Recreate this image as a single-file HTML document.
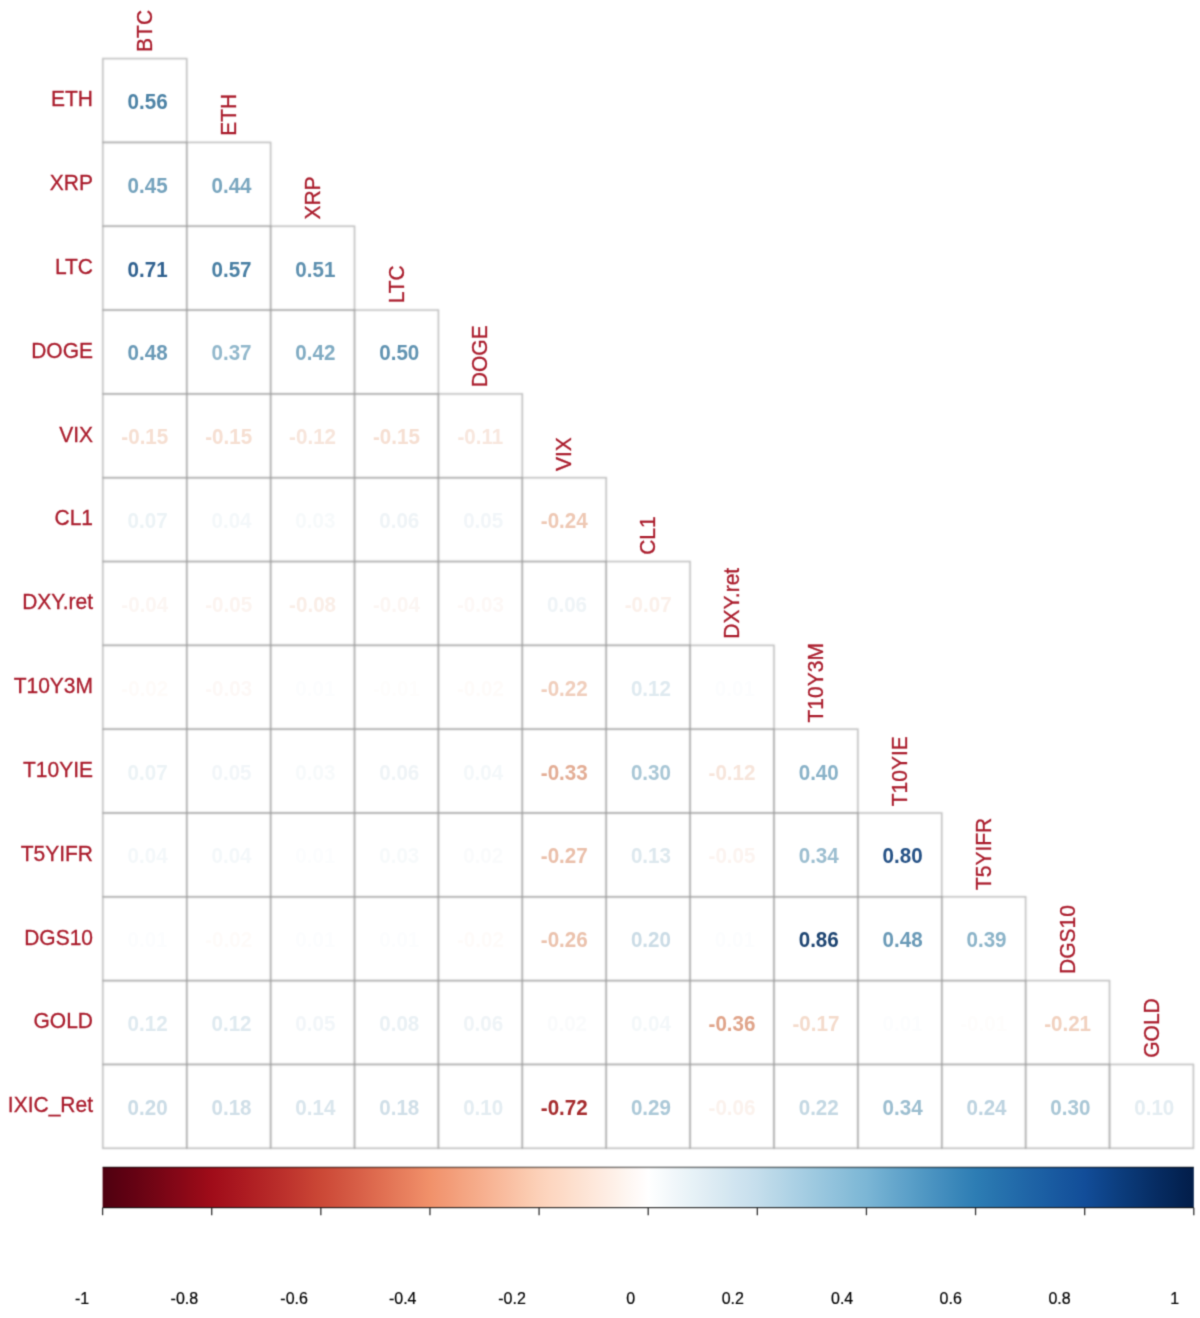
<!DOCTYPE html><html><head><meta charset="utf-8"><style>html,body{margin:0;padding:0;background:#fff;}body{width:1200px;height:1318px;overflow:hidden;}svg{display:block;}text{font-family:"Liberation Sans",sans-serif;}</style></head><body>
<svg width="1200" height="1318" viewBox="0 0 1200 1318">
<defs><filter id="gblur" x="0" y="0" width="1200" height="1318" filterUnits="userSpaceOnUse" color-interpolation-filters="sRGB"><feConvolveMatrix order="3" kernelMatrix="0.02768 0.11101 0.02768 0.11101 0.44521 0.11101 0.02768 0.11101 0.02768" edgeMode="duplicate"/></filter><filter id="lblur" x="0" y="0" width="1200" height="1318" filterUnits="userSpaceOnUse" color-interpolation-filters="sRGB"><feConvolveMatrix order="5" kernelMatrix="0.00009 0.00198 0.00548 0.00198 0.00009 0.00198 0.04220 0.11707 0.04220 0.00198 0.00548 0.11707 0.32480 0.11707 0.00548 0.00198 0.04220 0.11707 0.04220 0.00198 0.00009 0.00198 0.00548 0.00198 0.00009" edgeMode="none"/></filter></defs>
<g filter="url(#gblur)">
<rect width="1200" height="1318" fill="#fff"/>
<g fill="none" stroke="#a0a0a0" stroke-opacity="0.700" stroke-width="1.50" filter="url(#lblur)"><rect x="102.85" y="58.60" width="83.89" height="83.82"/><rect x="102.85" y="142.42" width="83.89" height="83.82"/><rect x="186.74" y="142.42" width="83.89" height="83.82"/><rect x="102.85" y="226.24" width="83.89" height="83.82"/><rect x="186.74" y="226.24" width="83.89" height="83.82"/><rect x="270.63" y="226.24" width="83.89" height="83.82"/><rect x="102.85" y="310.06" width="83.89" height="83.82"/><rect x="186.74" y="310.06" width="83.89" height="83.82"/><rect x="270.63" y="310.06" width="83.89" height="83.82"/><rect x="354.52" y="310.06" width="83.89" height="83.82"/><rect x="102.85" y="393.88" width="83.89" height="83.82"/><rect x="186.74" y="393.88" width="83.89" height="83.82"/><rect x="270.63" y="393.88" width="83.89" height="83.82"/><rect x="354.52" y="393.88" width="83.89" height="83.82"/><rect x="438.41" y="393.88" width="83.89" height="83.82"/><rect x="102.85" y="477.70" width="83.89" height="83.82"/><rect x="186.74" y="477.70" width="83.89" height="83.82"/><rect x="270.63" y="477.70" width="83.89" height="83.82"/><rect x="354.52" y="477.70" width="83.89" height="83.82"/><rect x="438.41" y="477.70" width="83.89" height="83.82"/><rect x="522.30" y="477.70" width="83.89" height="83.82"/><rect x="102.85" y="561.52" width="83.89" height="83.82"/><rect x="186.74" y="561.52" width="83.89" height="83.82"/><rect x="270.63" y="561.52" width="83.89" height="83.82"/><rect x="354.52" y="561.52" width="83.89" height="83.82"/><rect x="438.41" y="561.52" width="83.89" height="83.82"/><rect x="522.30" y="561.52" width="83.89" height="83.82"/><rect x="606.19" y="561.52" width="83.89" height="83.82"/><rect x="102.85" y="645.34" width="83.89" height="83.82"/><rect x="186.74" y="645.34" width="83.89" height="83.82"/><rect x="270.63" y="645.34" width="83.89" height="83.82"/><rect x="354.52" y="645.34" width="83.89" height="83.82"/><rect x="438.41" y="645.34" width="83.89" height="83.82"/><rect x="522.30" y="645.34" width="83.89" height="83.82"/><rect x="606.19" y="645.34" width="83.89" height="83.82"/><rect x="690.08" y="645.34" width="83.89" height="83.82"/><rect x="102.85" y="729.16" width="83.89" height="83.82"/><rect x="186.74" y="729.16" width="83.89" height="83.82"/><rect x="270.63" y="729.16" width="83.89" height="83.82"/><rect x="354.52" y="729.16" width="83.89" height="83.82"/><rect x="438.41" y="729.16" width="83.89" height="83.82"/><rect x="522.30" y="729.16" width="83.89" height="83.82"/><rect x="606.19" y="729.16" width="83.89" height="83.82"/><rect x="690.08" y="729.16" width="83.89" height="83.82"/><rect x="773.97" y="729.16" width="83.89" height="83.82"/><rect x="102.85" y="812.98" width="83.89" height="83.82"/><rect x="186.74" y="812.98" width="83.89" height="83.82"/><rect x="270.63" y="812.98" width="83.89" height="83.82"/><rect x="354.52" y="812.98" width="83.89" height="83.82"/><rect x="438.41" y="812.98" width="83.89" height="83.82"/><rect x="522.30" y="812.98" width="83.89" height="83.82"/><rect x="606.19" y="812.98" width="83.89" height="83.82"/><rect x="690.08" y="812.98" width="83.89" height="83.82"/><rect x="773.97" y="812.98" width="83.89" height="83.82"/><rect x="857.86" y="812.98" width="83.89" height="83.82"/><rect x="102.85" y="896.80" width="83.89" height="83.82"/><rect x="186.74" y="896.80" width="83.89" height="83.82"/><rect x="270.63" y="896.80" width="83.89" height="83.82"/><rect x="354.52" y="896.80" width="83.89" height="83.82"/><rect x="438.41" y="896.80" width="83.89" height="83.82"/><rect x="522.30" y="896.80" width="83.89" height="83.82"/><rect x="606.19" y="896.80" width="83.89" height="83.82"/><rect x="690.08" y="896.80" width="83.89" height="83.82"/><rect x="773.97" y="896.80" width="83.89" height="83.82"/><rect x="857.86" y="896.80" width="83.89" height="83.82"/><rect x="941.75" y="896.80" width="83.89" height="83.82"/><rect x="102.85" y="980.62" width="83.89" height="83.82"/><rect x="186.74" y="980.62" width="83.89" height="83.82"/><rect x="270.63" y="980.62" width="83.89" height="83.82"/><rect x="354.52" y="980.62" width="83.89" height="83.82"/><rect x="438.41" y="980.62" width="83.89" height="83.82"/><rect x="522.30" y="980.62" width="83.89" height="83.82"/><rect x="606.19" y="980.62" width="83.89" height="83.82"/><rect x="690.08" y="980.62" width="83.89" height="83.82"/><rect x="773.97" y="980.62" width="83.89" height="83.82"/><rect x="857.86" y="980.62" width="83.89" height="83.82"/><rect x="941.75" y="980.62" width="83.89" height="83.82"/><rect x="1025.64" y="980.62" width="83.89" height="83.82"/><rect x="102.85" y="1064.44" width="83.89" height="83.82"/><rect x="186.74" y="1064.44" width="83.89" height="83.82"/><rect x="270.63" y="1064.44" width="83.89" height="83.82"/><rect x="354.52" y="1064.44" width="83.89" height="83.82"/><rect x="438.41" y="1064.44" width="83.89" height="83.82"/><rect x="522.30" y="1064.44" width="83.89" height="83.82"/><rect x="606.19" y="1064.44" width="83.89" height="83.82"/><rect x="690.08" y="1064.44" width="83.89" height="83.82"/><rect x="773.97" y="1064.44" width="83.89" height="83.82"/><rect x="857.86" y="1064.44" width="83.89" height="83.82"/><rect x="941.75" y="1064.44" width="83.89" height="83.82"/><rect x="1025.64" y="1064.44" width="83.89" height="83.82"/><rect x="1109.53" y="1064.44" width="83.89" height="83.82"/></g>
<g font-weight="bold" font-size="20.6" text-anchor="middle"><text transform="translate(147.59 109.01) scale(1 1.090)" fill="#4d83a6">0.56</text><text transform="translate(147.59 192.83) scale(1 1.090)" fill="#75a3bd">0.45</text><text transform="translate(231.49 192.83) scale(1 1.090)" fill="#79a6bf">0.44</text><text transform="translate(147.59 276.65) scale(1 1.090)" fill="#316290">0.71</text><text transform="translate(231.49 276.65) scale(1 1.090)" fill="#4a80a4">0.57</text><text transform="translate(315.38 276.65) scale(1 1.090)" fill="#5f91b0">0.51</text><text transform="translate(147.59 360.47) scale(1 1.090)" fill="#6a9ab7">0.48</text><text transform="translate(231.49 360.47) scale(1 1.090)" fill="#92b8cc">0.37</text><text transform="translate(315.38 360.47) scale(1 1.090)" fill="#81acc3">0.42</text><text transform="translate(399.27 360.47) scale(1 1.090)" fill="#6294b2">0.50</text><text transform="translate(144.79 444.29) scale(1 1.090)" fill="#f6dfd2">-0.15</text><text transform="translate(228.69 444.29) scale(1 1.090)" fill="#f6dfd2">-0.15</text><text transform="translate(312.57 444.29) scale(1 1.090)" fill="#f7e5db">-0.12</text><text transform="translate(396.47 444.29) scale(1 1.090)" fill="#f6dfd2">-0.15</text><text transform="translate(480.36 444.29) scale(1 1.090)" fill="#f8e7de">-0.11</text><text transform="translate(147.59 528.11) scale(1 1.090)" fill="#ecf3f6">0.07</text><text transform="translate(231.49 528.11) scale(1 1.090)" fill="#f4f8fa">0.04</text><text transform="translate(315.38 528.11) scale(1 1.090)" fill="#f7fafb">0.03</text><text transform="translate(399.27 528.11) scale(1 1.090)" fill="#eff4f7">0.06</text><text transform="translate(483.16 528.11) scale(1 1.090)" fill="#f2f6f9">0.05</text><text transform="translate(564.25 528.11) scale(1 1.090)" fill="#eec8b4">-0.24</text><text transform="translate(144.79 611.93) scale(1 1.090)" fill="#fcf6f3">-0.04</text><text transform="translate(228.69 611.93) scale(1 1.090)" fill="#fcf4f0">-0.05</text><text transform="translate(312.57 611.93) scale(1 1.090)" fill="#faeee7">-0.08</text><text transform="translate(396.47 611.93) scale(1 1.090)" fill="#fcf6f3">-0.04</text><text transform="translate(480.36 611.93) scale(1 1.090)" fill="#fdf8f6">-0.03</text><text transform="translate(567.04 611.93) scale(1 1.090)" fill="#eff4f7">0.06</text><text transform="translate(648.13 611.93) scale(1 1.090)" fill="#fbf0ea">-0.07</text><text transform="translate(144.79 695.75) scale(1 1.090)" fill="#fefbf9">-0.02</text><text transform="translate(228.69 695.75) scale(1 1.090)" fill="#fdf8f6">-0.03</text><text transform="translate(315.38 695.75) scale(1 1.090)" fill="#fcfdfe">0.01</text><text transform="translate(396.47 695.75) scale(1 1.090)" fill="#fefdfc">-0.01</text><text transform="translate(480.36 695.75) scale(1 1.090)" fill="#fefbf9">-0.02</text><text transform="translate(564.25 695.75) scale(1 1.090)" fill="#f0cebc">-0.22</text><text transform="translate(650.93 695.75) scale(1 1.090)" fill="#dfeaf0">0.12</text><text transform="translate(734.82 695.75) scale(1 1.090)" fill="#fcfdfe">0.01</text><text transform="translate(147.59 779.57) scale(1 1.090)" fill="#ecf3f6">0.07</text><text transform="translate(231.49 779.57) scale(1 1.090)" fill="#f2f6f9">0.05</text><text transform="translate(315.38 779.57) scale(1 1.090)" fill="#f7fafb">0.03</text><text transform="translate(399.27 779.57) scale(1 1.090)" fill="#eff4f7">0.06</text><text transform="translate(483.16 779.57) scale(1 1.090)" fill="#f4f8fa">0.04</text><text transform="translate(564.25 779.57) scale(1 1.090)" fill="#e3ad95">-0.33</text><text transform="translate(650.93 779.57) scale(1 1.090)" fill="#a9c7d6">0.30</text><text transform="translate(732.02 779.57) scale(1 1.090)" fill="#f7e5db">-0.12</text><text transform="translate(818.72 779.57) scale(1 1.090)" fill="#89b2c8">0.40</text><text transform="translate(147.59 863.39) scale(1 1.090)" fill="#f4f8fa">0.04</text><text transform="translate(231.49 863.39) scale(1 1.090)" fill="#f4f8fa">0.04</text><text transform="translate(315.38 863.39) scale(1 1.090)" fill="#fcfdfe">0.01</text><text transform="translate(399.27 863.39) scale(1 1.090)" fill="#f7fafb">0.03</text><text transform="translate(483.16 863.39) scale(1 1.090)" fill="#fafbfc">0.02</text><text transform="translate(564.25 863.39) scale(1 1.090)" fill="#eabfaa">-0.27</text><text transform="translate(650.93 863.39) scale(1 1.090)" fill="#dde8ee">0.13</text><text transform="translate(732.02 863.39) scale(1 1.090)" fill="#fcf4f0">-0.05</text><text transform="translate(818.72 863.39) scale(1 1.090)" fill="#9cbed0">0.34</text><text transform="translate(902.61 863.39) scale(1 1.090)" fill="#265286">0.80</text><text transform="translate(147.59 947.21) scale(1 1.090)" fill="#fcfdfe">0.01</text><text transform="translate(228.69 947.21) scale(1 1.090)" fill="#fefbf9">-0.02</text><text transform="translate(315.38 947.21) scale(1 1.090)" fill="#fcfdfe">0.01</text><text transform="translate(399.27 947.21) scale(1 1.090)" fill="#fcfdfe">0.01</text><text transform="translate(480.36 947.21) scale(1 1.090)" fill="#fefbf9">-0.02</text><text transform="translate(564.25 947.21) scale(1 1.090)" fill="#ebc2ad">-0.26</text><text transform="translate(650.93 947.21) scale(1 1.090)" fill="#cbdce6">0.20</text><text transform="translate(734.82 947.21) scale(1 1.090)" fill="#fcfdfe">0.01</text><text transform="translate(818.72 947.21) scale(1 1.090)" fill="#1e4572">0.86</text><text transform="translate(902.61 947.21) scale(1 1.090)" fill="#6a9ab7">0.48</text><text transform="translate(986.50 947.21) scale(1 1.090)" fill="#8cb4c9">0.39</text><text transform="translate(147.59 1031.03) scale(1 1.090)" fill="#dfeaf0">0.12</text><text transform="translate(231.49 1031.03) scale(1 1.090)" fill="#dfeaf0">0.12</text><text transform="translate(315.38 1031.03) scale(1 1.090)" fill="#f2f6f9">0.05</text><text transform="translate(399.27 1031.03) scale(1 1.090)" fill="#eaf1f5">0.08</text><text transform="translate(483.16 1031.03) scale(1 1.090)" fill="#eff4f7">0.06</text><text transform="translate(567.04 1031.03) scale(1 1.090)" fill="#fafbfc">0.02</text><text transform="translate(650.93 1031.03) scale(1 1.090)" fill="#f4f8fa">0.04</text><text transform="translate(732.02 1031.03) scale(1 1.090)" fill="#e0a48a">-0.36</text><text transform="translate(815.92 1031.03) scale(1 1.090)" fill="#f4dbcc">-0.17</text><text transform="translate(902.61 1031.03) scale(1 1.090)" fill="#fcfdfe">0.01</text><text transform="translate(983.70 1031.03) scale(1 1.090)" fill="#fefdfc">-0.01</text><text transform="translate(1067.59 1031.03) scale(1 1.090)" fill="#f1d1bf">-0.21</text><text transform="translate(147.59 1114.85) scale(1 1.090)" fill="#cbdce6">0.20</text><text transform="translate(231.49 1114.85) scale(1 1.090)" fill="#d0dfe8">0.18</text><text transform="translate(315.38 1114.85) scale(1 1.090)" fill="#dae6ed">0.14</text><text transform="translate(399.27 1114.85) scale(1 1.090)" fill="#d0dfe8">0.18</text><text transform="translate(483.16 1114.85) scale(1 1.090)" fill="#e4edf2">0.10</text><text transform="translate(564.25 1114.85) scale(1 1.090)" fill="#a52b2d">-0.72</text><text transform="translate(650.93 1114.85) scale(1 1.090)" fill="#acc9d8">0.29</text><text transform="translate(732.02 1114.85) scale(1 1.090)" fill="#fbf2ed">-0.06</text><text transform="translate(818.72 1114.85) scale(1 1.090)" fill="#c4d8e3">0.22</text><text transform="translate(902.61 1114.85) scale(1 1.090)" fill="#9cbed0">0.34</text><text transform="translate(986.50 1114.85) scale(1 1.090)" fill="#bdd3e0">0.24</text><text transform="translate(1070.38 1114.85) scale(1 1.090)" fill="#a9c7d6">0.30</text><text transform="translate(1154.27 1114.85) scale(1 1.090)" fill="#e4edf2">0.10</text></g>
<g font-size="21.0" text-anchor="end" fill="#aa1c2c" stroke="#aa1c2c" stroke-width="0.3"><text transform="translate(93.0 106.31) scale(1 1.080)">ETH</text><text transform="translate(93.0 190.13) scale(1 1.080)">XRP</text><text transform="translate(93.0 273.95) scale(1 1.080)">LTC</text><text transform="translate(93.0 357.77) scale(1 1.080)">DOGE</text><text transform="translate(93.0 441.59) scale(1 1.080)">VIX</text><text transform="translate(93.0 525.41) scale(1 1.080)">CL1</text><text transform="translate(93.0 609.23) scale(1 1.080)">DXY.ret</text><text transform="translate(93.0 693.05) scale(1 1.080)">T10Y3M</text><text transform="translate(93.0 776.87) scale(1 1.080)">T10YIE</text><text transform="translate(93.0 860.69) scale(1 1.080)">T5YIFR</text><text transform="translate(93.0 944.51) scale(1 1.080)">DGS10</text><text transform="translate(93.0 1028.33) scale(1 1.080)">GOLD</text><text transform="translate(93.0 1112.15) scale(1 1.080)">IXIC_Ret</text></g>
<g font-size="21.0" text-anchor="start" fill="#aa1c2c" stroke="#aa1c2c" stroke-width="0.3"><text transform="translate(151.89 51.90) rotate(-90) scale(1 1.080)">BTC</text><text transform="translate(235.78 135.72) rotate(-90) scale(1 1.080)">ETH</text><text transform="translate(319.68 219.54) rotate(-90) scale(1 1.080)">XRP</text><text transform="translate(403.57 303.36) rotate(-90) scale(1 1.080)">LTC</text><text transform="translate(487.46 387.18) rotate(-90) scale(1 1.080)">DOGE</text><text transform="translate(571.35 471.00) rotate(-90) scale(1 1.080)">VIX</text><text transform="translate(655.24 554.82) rotate(-90) scale(1 1.080)">CL1</text><text transform="translate(739.12 638.64) rotate(-90) scale(1 1.080)">DXY.ret</text><text transform="translate(823.02 722.46) rotate(-90) scale(1 1.080)">T10Y3M</text><text transform="translate(906.91 806.28) rotate(-90) scale(1 1.080)">T10YIE</text><text transform="translate(990.80 890.10) rotate(-90) scale(1 1.080)">T5YIFR</text><text transform="translate(1074.68 973.92) rotate(-90) scale(1 1.080)">DGS10</text><text transform="translate(1158.57 1057.74) rotate(-90) scale(1 1.080)">GOLD</text></g>
<defs><linearGradient id="cb" x1="0" x2="1" y1="0" y2="0"><stop offset="0.0000" stop-color="#4e0010"/><stop offset="0.0100" stop-color="#560111"/><stop offset="0.0200" stop-color="#5e0112"/><stop offset="0.0300" stop-color="#650213"/><stop offset="0.0400" stop-color="#6d0414"/><stop offset="0.0500" stop-color="#750515"/><stop offset="0.0600" stop-color="#7e0616"/><stop offset="0.0700" stop-color="#860717"/><stop offset="0.0800" stop-color="#8f0917"/><stop offset="0.0900" stop-color="#970a18"/><stop offset="0.1000" stop-color="#a00c19"/><stop offset="0.1100" stop-color="#a4111c"/><stop offset="0.1200" stop-color="#a8161f"/><stop offset="0.1300" stop-color="#ad1b21"/><stop offset="0.1400" stop-color="#b12124"/><stop offset="0.1500" stop-color="#b52727"/><stop offset="0.1600" stop-color="#b92d2a"/><stop offset="0.1700" stop-color="#be332d"/><stop offset="0.1800" stop-color="#c23a30"/><stop offset="0.1900" stop-color="#c74133"/><stop offset="0.2000" stop-color="#cb4836"/><stop offset="0.2100" stop-color="#cf4e3b"/><stop offset="0.2200" stop-color="#d25540"/><stop offset="0.2300" stop-color="#d65c45"/><stop offset="0.2400" stop-color="#da634a"/><stop offset="0.2500" stop-color="#de6b4f"/><stop offset="0.2600" stop-color="#e27254"/><stop offset="0.2700" stop-color="#e57a5a"/><stop offset="0.2800" stop-color="#e9815f"/><stop offset="0.2900" stop-color="#ed8965"/><stop offset="0.3000" stop-color="#f1916a"/><stop offset="0.3100" stop-color="#f29772"/><stop offset="0.3200" stop-color="#f39d79"/><stop offset="0.3300" stop-color="#f4a481"/><stop offset="0.3400" stop-color="#f5aa88"/><stop offset="0.3500" stop-color="#f7b090"/><stop offset="0.3600" stop-color="#f8b798"/><stop offset="0.3700" stop-color="#f9bda0"/><stop offset="0.3800" stop-color="#fac4a8"/><stop offset="0.3900" stop-color="#fbcbb0"/><stop offset="0.4000" stop-color="#fcd1b9"/><stop offset="0.4100" stop-color="#fdd6c0"/><stop offset="0.4200" stop-color="#fddac6"/><stop offset="0.4300" stop-color="#fddfcd"/><stop offset="0.4400" stop-color="#fde3d4"/><stop offset="0.4500" stop-color="#fee8db"/><stop offset="0.4600" stop-color="#feece2"/><stop offset="0.4700" stop-color="#fef1e9"/><stop offset="0.4800" stop-color="#fef6f1"/><stop offset="0.4900" stop-color="#fffaf8"/><stop offset="0.5000" stop-color="#ffffff"/><stop offset="0.5100" stop-color="#f9fcfd"/><stop offset="0.5200" stop-color="#f3f8fb"/><stop offset="0.5300" stop-color="#edf5f9"/><stop offset="0.5400" stop-color="#e7f2f7"/><stop offset="0.5500" stop-color="#e2eef5"/><stop offset="0.5600" stop-color="#dcebf3"/><stop offset="0.5700" stop-color="#d6e8f1"/><stop offset="0.5800" stop-color="#d0e4f0"/><stop offset="0.5900" stop-color="#cbe1ee"/><stop offset="0.6000" stop-color="#c5deec"/><stop offset="0.6100" stop-color="#bddae9"/><stop offset="0.6200" stop-color="#b6d6e7"/><stop offset="0.6300" stop-color="#aed2e5"/><stop offset="0.6400" stop-color="#a7cee3"/><stop offset="0.6500" stop-color="#9fcae0"/><stop offset="0.6600" stop-color="#98c6de"/><stop offset="0.6700" stop-color="#91c2dc"/><stop offset="0.6800" stop-color="#8abed9"/><stop offset="0.6900" stop-color="#82bad7"/><stop offset="0.7000" stop-color="#7cb6d5"/><stop offset="0.7100" stop-color="#73b0d2"/><stop offset="0.7200" stop-color="#6aaace"/><stop offset="0.7300" stop-color="#62a4cb"/><stop offset="0.7400" stop-color="#5a9fc8"/><stop offset="0.7500" stop-color="#5299c4"/><stop offset="0.7600" stop-color="#4a93c1"/><stop offset="0.7700" stop-color="#438dbe"/><stop offset="0.7800" stop-color="#3b88ba"/><stop offset="0.7900" stop-color="#3482b7"/><stop offset="0.8000" stop-color="#2d7db4"/><stop offset="0.8100" stop-color="#2a78b1"/><stop offset="0.8200" stop-color="#2773ae"/><stop offset="0.8300" stop-color="#246eac"/><stop offset="0.8400" stop-color="#2169a9"/><stop offset="0.8500" stop-color="#1f64a6"/><stop offset="0.8600" stop-color="#1c60a4"/><stop offset="0.8700" stop-color="#195ba1"/><stop offset="0.8800" stop-color="#17569e"/><stop offset="0.8900" stop-color="#14529b"/><stop offset="0.9000" stop-color="#124d99"/><stop offset="0.9100" stop-color="#104890"/><stop offset="0.9200" stop-color="#0e4388"/><stop offset="0.9300" stop-color="#0c3e7f"/><stop offset="0.9400" stop-color="#0a3977"/><stop offset="0.9500" stop-color="#09346f"/><stop offset="0.9600" stop-color="#072f67"/><stop offset="0.9700" stop-color="#062a5f"/><stop offset="0.9800" stop-color="#042658"/><stop offset="0.9900" stop-color="#032150"/><stop offset="1.0000" stop-color="#021d49"/></linearGradient></defs>
<rect x="102.60" y="1167.10" width="1091.20" height="40.70" fill="url(#cb)"/>
<line x1="102.60" x2="1193.80" y1="1167.40" y2="1167.40" stroke="#000" stroke-opacity="0.45" stroke-width="1.6"/>
<line x1="102.60" x2="1193.80" y1="1207.60" y2="1207.60" stroke="#000" stroke-opacity="0.75" stroke-width="1.3"/>
<g stroke="#333" stroke-width="1.3"><line x1="102.60" x2="102.60" y1="1207.80" y2="1215.20"/><line x1="211.72" x2="211.72" y1="1207.80" y2="1215.20"/><line x1="320.84" x2="320.84" y1="1207.80" y2="1215.20"/><line x1="429.96" x2="429.96" y1="1207.80" y2="1215.20"/><line x1="539.08" x2="539.08" y1="1207.80" y2="1215.20"/><line x1="648.20" x2="648.20" y1="1207.80" y2="1215.20"/><line x1="757.32" x2="757.32" y1="1207.80" y2="1215.20"/><line x1="866.44" x2="866.44" y1="1207.80" y2="1215.20"/><line x1="975.56" x2="975.56" y1="1207.80" y2="1215.20"/><line x1="1084.68" x2="1084.68" y1="1207.80" y2="1215.20"/><line x1="1193.80" x2="1193.80" y1="1207.80" y2="1215.20"/></g>
<g font-size="16" text-anchor="middle" fill="#000" stroke="#000" stroke-width="0.2"><text transform="translate(82.10 1304.0) scale(1 1.05)">-1</text><text transform="translate(184.40 1304.0) scale(1 1.05)">-0.8</text><text transform="translate(294.10 1304.0) scale(1 1.05)">-0.6</text><text transform="translate(402.70 1304.0) scale(1 1.05)">-0.4</text><text transform="translate(512.00 1304.0) scale(1 1.05)">-0.2</text><text transform="translate(630.70 1304.0) scale(1 1.05)">0</text><text transform="translate(732.80 1304.0) scale(1 1.05)">0.2</text><text transform="translate(842.10 1304.0) scale(1 1.05)">0.4</text><text transform="translate(950.70 1304.0) scale(1 1.05)">0.6</text><text transform="translate(1059.50 1304.0) scale(1 1.05)">0.8</text><text transform="translate(1174.80 1304.0) scale(1 1.05)">1</text></g>
</g></svg></body></html>
